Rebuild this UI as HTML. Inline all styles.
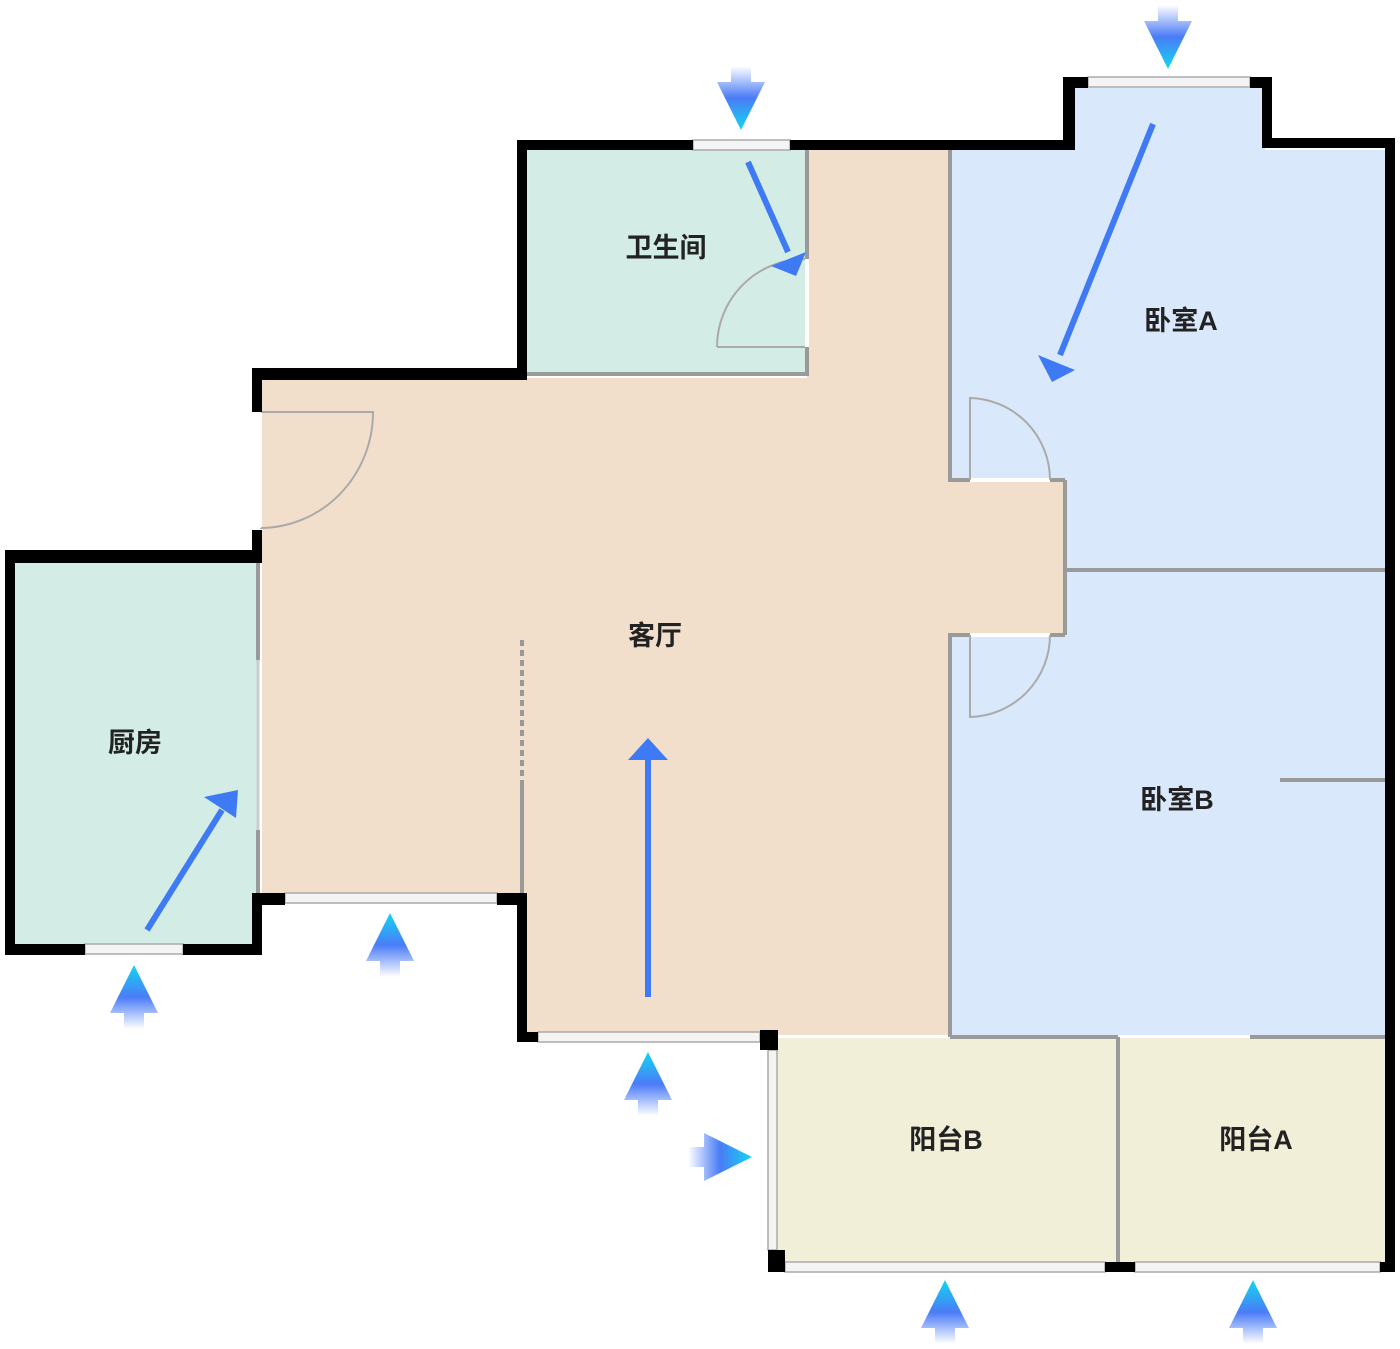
<!DOCTYPE html>
<html><head><meta charset="utf-8"><style>
html,body{margin:0;padding:0;background:#fff;}
svg{display:block}
text{font-family:"Liberation Sans","Noto Sans CJK SC",sans-serif;font-size:27px;font-weight:bold;fill:#222;text-anchor:middle;dominant-baseline:middle;}
</style></head><body>
<svg width="1400" height="1349" viewBox="0 0 1400 1349" xmlns="http://www.w3.org/2000/svg">
<defs>
<linearGradient id="gu" x1="0" y1="0" x2="0" y2="1">
<stop offset="0" stop-color="#12d6f2"/><stop offset="0.5" stop-color="#4a7cf7"/><stop offset="1" stop-color="#4a7cf7" stop-opacity="0"/></linearGradient>
<g id="up"><path d="M0,0 L24,48 L10,48 L10,64 L-10,64 L-10,48 L-24,48 Z" fill="url(#gu)"/></g>
</defs>
<polygon points="262,378 807,378 807,150 950,150 950,480 1065,480 1065,635 950,635 950,1035 527,1035 527,897 262,897" fill="#F2DFCB"/>
<rect x="527" y="150" width="280" height="225" fill="#D3ECE5"/>
<rect x="15" y="563" width="243" height="382" fill="#D3ECE5"/>
<polygon points="950,150 1070,150 1070,88 1265,88 1265,150 1388,150 1388,570 1065,570 1065,480 950,480" fill="#DAE8FC"/>
<polygon points="1065,570 1388,570 1388,1035 950,1035 950,635 1065,635" fill="#DAE8FC"/>
<rect x="776" y="1038" width="342" height="226" fill="#F2EFD8"/>
<rect x="1118" y="1038" width="270" height="226" fill="#F2EFD8"/>
<g stroke="#9a9a9a" stroke-width="4" fill="none">
<line x1="807" y1="150" x2="807" y2="375"/><line x1="527" y1="374" x2="809" y2="374"/>
<line x1="950" y1="150" x2="950" y2="482"/><line x1="950" y1="480" x2="1065" y2="480"/>
<line x1="1065" y1="480" x2="1065" y2="635"/><line x1="1065" y1="570" x2="1388" y2="570"/>
<line x1="950" y1="635" x2="1065" y2="635"/><line x1="950" y1="633" x2="950" y2="1037"/>
<line x1="1280" y1="780" x2="1386" y2="780"/>
<line x1="950" y1="1037" x2="1118" y2="1037"/><line x1="1250" y1="1037" x2="1386" y2="1037"/>
<line x1="1118" y1="1037" x2="1118" y2="1262"/>
<line x1="522" y1="780" x2="522" y2="893"/>
<line x1="258" y1="563" x2="258" y2="660"/><line x1="258" y1="830" x2="258" y2="897"/>
</g>
<line x1="522" y1="640" x2="522" y2="780" stroke="#999" stroke-width="4" stroke-dasharray="6,4"/>
<line x1="258" y1="660" x2="258" y2="830" stroke="#ccc" stroke-width="3"/>
<g stroke="#fff" stroke-width="4">
<line x1="807" y1="259" x2="807" y2="347"/><line x1="970" y1="480" x2="1050" y2="480"/><line x1="970" y1="635" x2="1050" y2="635"/>
</g>
<g stroke="#aaa" stroke-width="2" fill="none">
<path d="M717,347 L805,347 M717,347 A88,88 0 0 1 805,259"/>
<path d="M970,480 L970,398 A82,82 0 0 1 1050,480"/>
<path d="M970,635 L970,717 A82,82 0 0 0 1050,635"/>
<path d="M260,412 L373,412 A113,116 0 0 1 260,528"/>
<line x1="260" y1="412" x2="260" y2="528" stroke="#fff"/>
</g>
<g fill="#f4f4f4" stroke="#aaa" stroke-width="1.5">
<rect x="693" y="140" width="97" height="10"/><rect x="1088" y="77" width="162" height="10"/>
<rect x="85" y="944" width="98" height="10"/><rect x="285" y="893" width="212" height="10"/>
<rect x="538" y="1032" width="222" height="10"/><rect x="768" y="1050" width="9" height="200"/>
<rect x="785" y="1262" width="320" height="10"/><rect x="1135" y="1262" width="245" height="10"/>
</g>
<g fill="#000">
<rect x="517" y="140" width="10" height="240"/><rect x="517" y="140" width="176" height="10"/>
<rect x="790" y="140" width="285" height="10"/><rect x="1063" y="77" width="12" height="73"/>
<rect x="1063" y="77" width="25" height="11"/><rect x="1250" y="77" width="22" height="11"/>
<rect x="1262" y="77" width="10" height="71"/><rect x="1262" y="138" width="133" height="10"/>
<rect x="1385" y="138" width="10" height="1134"/>
<rect x="252" y="368" width="275" height="12"/><rect x="252" y="368" width="10" height="44"/>
<rect x="252" y="530" width="10" height="30"/><rect x="5" y="550" width="257" height="13"/>
<rect x="5" y="550" width="10" height="405"/><rect x="5" y="944" width="80" height="11"/>
<rect x="183" y="944" width="79" height="11"/><rect x="252" y="897" width="10" height="58"/>
<rect x="252" y="893" width="33" height="12"/><rect x="497" y="893" width="30" height="12"/>
<rect x="517" y="893" width="10" height="149"/><rect x="517" y="1032" width="21" height="10"/>
<rect x="760" y="1030" width="18" height="20"/>
<rect x="768" y="1250" width="17" height="22"/><rect x="1105" y="1262" width="30" height="10"/>
<rect x="1380" y="1262" width="15" height="10"/>
</g>
<g stroke="#3f7af5" stroke-width="6" fill="#3f7af5">
<line x1="748" y1="162" x2="788" y2="252"/>
<polygon points="806,252 796,276 771,266" stroke="none"/>
<line x1="1153" y1="124" x2="1060" y2="355"/><polygon points="1052,382 1038,355 1075,370" stroke="none"/>
<line x1="648" y1="997" x2="648" y2="760"/><polygon points="648,738 628,760 668,760" stroke="none"/>
<line x1="147" y1="930" x2="222" y2="810"/><polygon points="238,790 236,818 204,797" stroke="none"/>
</g>
<use href="#up" transform="translate(134,965)"/>
<use href="#up" transform="translate(390,913)"/>
<use href="#up" transform="translate(648,1052)"/>
<use href="#up" transform="translate(945,1280)"/>
<use href="#up" transform="translate(1253,1280)"/>
<use href="#up" transform="translate(741,130) rotate(180)"/>
<use href="#up" transform="translate(1168,69) rotate(180)"/>
<use href="#up" transform="translate(752,1157) rotate(90)"/>
<text x="666" y="250">卫生间</text>
<text x="1181" y="323">卧室A</text>
<text x="655" y="638">客厅</text>
<text x="135" y="745">厨房</text>
<text x="1177" y="802">卧室B</text>
<text x="946" y="1142">阳台B</text>
<text x="1256" y="1142">阳台A</text>
</svg>
</body></html>
